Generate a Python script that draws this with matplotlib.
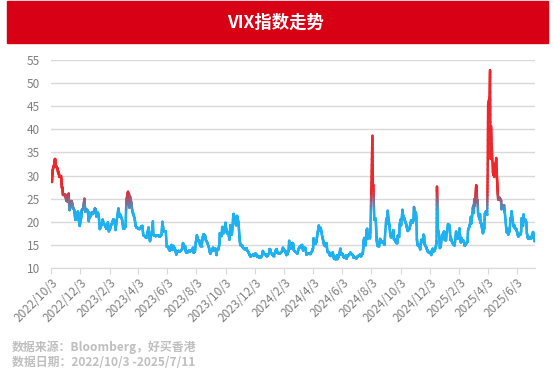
import numpy as np
import pandas as pd
import matplotlib
matplotlib.use("Agg")
import matplotlib.pyplot as plt
import matplotlib.dates as mdates
from matplotlib.collections import LineCollection
from matplotlib.patches import Rectangle

plt.rcParams['font.family'] = ['Noto Sans CJK SC', 'DejaVu Sans']

### VIX closes (a few points a week, daily around the spikes)
vix_2022 = [
    ("2022-10-03", 30.1), ("2022-10-04", 29.1), ("2022-10-05", 28.6), ("2022-10-06", 30.5),
    ("2022-10-07", 31.4), ("2022-10-10", 32.5), ("2022-10-11", 33.6), ("2022-10-12", 33.6),
    ("2022-10-13", 31.9), ("2022-10-14", 32.0), ("2022-10-17", 31.4), ("2022-10-18", 30.5),
    ("2022-10-19", 30.8), ("2022-10-20", 30.0), ("2022-10-21", 29.7), ("2022-10-24", 29.9),
    ("2022-10-25", 28.5), ("2022-10-26", 27.3), ("2022-10-27", 27.4), ("2022-10-28", 25.8),
    ("2022-10-31", 25.9), ("2022-11-02", 25.9), ("2022-11-03", 25.3), ("2022-11-04", 24.6),
    ("2022-11-07", 24.4), ("2022-11-08", 25.5), ("2022-11-09", 26.1), ("2022-11-10", 23.5),
    ("2022-11-11", 22.5), ("2022-11-14", 23.7), ("2022-11-15", 24.5), ("2022-11-16", 24.1),
    ("2022-11-18", 23.1), ("2022-11-21", 22.4), ("2022-11-22", 21.3), ("2022-11-23", 20.4),
    ("2022-11-25", 20.5), ("2022-11-28", 22.2), ("2022-11-29", 21.9), ("2022-11-30", 20.6),
    ("2022-12-01", 19.8), ("2022-12-02", 19.1), ("2022-12-05", 20.8), ("2022-12-06", 22.1),
    ("2022-12-07", 22.7), ("2022-12-09", 22.8), ("2022-12-12", 25.0), ("2022-12-13", 22.6),
    ("2022-12-14", 22.2), ("2022-12-15", 22.8), ("2022-12-16", 22.6), ("2022-12-19", 22.4),
    ("2022-12-20", 21.2), ("2022-12-21", 20.1), ("2022-12-22", 22.0), ("2022-12-23", 20.9),
    ("2022-12-27", 21.7), ("2022-12-28", 22.1), ("2022-12-30", 21.7),
]

vix_2023 = [
    ("2023-01-03", 22.9), ("2023-01-05", 22.5), ("2023-01-06", 21.1), ("2023-01-09", 22.0),
    ("2023-01-11", 21.1), ("2023-01-13", 18.4), ("2023-01-17", 19.4), ("2023-01-19", 20.5),
    ("2023-01-20", 19.9), ("2023-01-24", 19.2), ("2023-01-26", 18.7), ("2023-01-27", 18.5),
    ("2023-01-30", 19.9), ("2023-02-01", 17.9), ("2023-02-02", 18.7), ("2023-02-03", 18.3),
    ("2023-02-06", 19.4), ("2023-02-08", 19.6), ("2023-02-10", 20.5), ("2023-02-13", 20.3),
    ("2023-02-15", 18.2), ("2023-02-17", 20.0), ("2023-02-21", 22.9), ("2023-02-23", 21.1),
    ("2023-02-24", 21.7), ("2023-02-28", 20.7), ("2023-03-02", 19.6), ("2023-03-03", 18.5),
    ("2023-03-06", 18.6), ("2023-03-08", 19.1), ("2023-03-09", 22.6), ("2023-03-10", 24.8),
    ("2023-03-13", 26.5), ("2023-03-14", 23.7), ("2023-03-15", 26.1), ("2023-03-16", 23.0),
    ("2023-03-17", 25.5), ("2023-03-20", 24.1), ("2023-03-22", 22.3), ("2023-03-24", 21.7),
    ("2023-03-27", 20.6), ("2023-03-29", 19.1), ("2023-03-31", 18.7), ("2023-04-04", 18.6),
    ("2023-04-06", 18.4), ("2023-04-10", 19.0), ("2023-04-12", 19.1), ("2023-04-14", 17.1),
    ("2023-04-18", 16.8), ("2023-04-20", 16.5), ("2023-04-21", 16.8), ("2023-04-25", 18.8),
    ("2023-04-27", 16.7), ("2023-04-28", 15.8), ("2023-05-02", 17.8), ("2023-05-03", 18.3),
    ("2023-05-04", 20.1), ("2023-05-05", 17.2), ("2023-05-08", 17.0), ("2023-05-10", 16.9),
    ("2023-05-12", 17.0), ("2023-05-15", 17.1), ("2023-05-17", 16.9), ("2023-05-19", 16.8),
    ("2023-05-22", 17.2), ("2023-05-24", 20.0), ("2023-05-25", 19.1), ("2023-05-26", 18.0),
    ("2023-05-31", 17.9), ("2023-06-02", 14.6), ("2023-06-05", 14.7), ("2023-06-07", 13.9),
    ("2023-06-09", 13.8), ("2023-06-12", 15.0), ("2023-06-14", 13.9), ("2023-06-16", 14.8),
    ("2023-06-20", 13.9), ("2023-06-22", 12.9), ("2023-06-23", 13.4), ("2023-06-27", 13.7),
    ("2023-06-29", 13.5), ("2023-06-30", 13.6), ("2023-07-05", 14.2), ("2023-07-06", 15.4),
    ("2023-07-07", 14.8), ("2023-07-10", 14.8), ("2023-07-12", 13.5), ("2023-07-14", 13.3),
    ("2023-07-17", 13.5), ("2023-07-19", 13.8), ("2023-07-21", 13.6), ("2023-07-25", 13.9),
    ("2023-07-27", 14.4), ("2023-07-28", 13.3), ("2023-07-31", 13.6), ("2023-08-02", 15.9),
    ("2023-08-03", 15.9), ("2023-08-04", 17.1), ("2023-08-07", 15.8), ("2023-08-09", 16.0),
    ("2023-08-11", 14.8), ("2023-08-14", 14.8), ("2023-08-16", 16.5), ("2023-08-18", 17.3),
    ("2023-08-21", 17.0), ("2023-08-23", 16.0), ("2023-08-25", 15.7), ("2023-08-29", 14.5),
    ("2023-08-31", 13.6), ("2023-09-01", 13.1), ("2023-09-05", 14.0), ("2023-09-07", 14.4),
    ("2023-09-08", 13.8), ("2023-09-12", 14.2), ("2023-09-14", 12.8), ("2023-09-15", 13.8),
    ("2023-09-18", 14.0), ("2023-09-20", 15.1), ("2023-09-21", 17.5), ("2023-09-22", 17.2),
    ("2023-09-25", 16.9), ("2023-09-26", 18.9), ("2023-09-27", 18.2), ("2023-09-29", 17.5),
    ("2023-10-03", 19.8), ("2023-10-04", 18.6), ("2023-10-06", 17.5), ("2023-10-09", 17.7),
    ("2023-10-11", 16.1), ("2023-10-13", 19.3), ("2023-10-16", 17.2), ("2023-10-18", 19.2),
    ("2023-10-19", 21.4), ("2023-10-20", 21.7), ("2023-10-23", 20.4), ("2023-10-25", 19.2),
    ("2023-10-26", 20.2), ("2023-10-27", 21.3), ("2023-10-30", 19.8), ("2023-11-01", 16.9),
    ("2023-11-02", 15.7), ("2023-11-03", 14.9), ("2023-11-06", 14.9), ("2023-11-08", 14.5),
    ("2023-11-10", 14.2), ("2023-11-14", 14.2), ("2023-11-16", 14.3), ("2023-11-17", 13.8),
    ("2023-11-20", 13.4), ("2023-11-22", 12.9), ("2023-11-24", 12.5), ("2023-11-28", 12.7),
    ("2023-11-30", 12.9), ("2023-12-01", 12.6), ("2023-12-04", 13.1), ("2023-12-06", 13.0),
    ("2023-12-08", 12.4), ("2023-12-11", 12.6), ("2023-12-13", 12.2), ("2023-12-15", 12.3),
    ("2023-12-18", 12.6), ("2023-12-20", 13.7), ("2023-12-22", 13.0), ("2023-12-26", 13.0),
    ("2023-12-28", 12.5), ("2023-12-29", 12.5),
]

vix_2024 = [
    ("2024-01-02", 13.2), ("2024-01-03", 14.0), ("2024-01-04", 14.1), ("2024-01-05", 13.4),
    ("2024-01-08", 13.1), ("2024-01-10", 12.7), ("2024-01-12", 12.7), ("2024-01-16", 13.8),
    ("2024-01-18", 14.1), ("2024-01-19", 13.3), ("2024-01-22", 13.2), ("2024-01-24", 13.1),
    ("2024-01-26", 13.3), ("2024-01-29", 13.6), ("2024-01-31", 14.4), ("2024-02-01", 13.9),
    ("2024-02-02", 13.9), ("2024-02-05", 13.7), ("2024-02-07", 12.8), ("2024-02-09", 12.9),
    ("2024-02-12", 13.9), ("2024-02-13", 15.9), ("2024-02-14", 14.4), ("2024-02-16", 14.2),
    ("2024-02-20", 15.4), ("2024-02-21", 15.3), ("2024-02-22", 14.5), ("2024-02-23", 13.8),
    ("2024-02-27", 13.4), ("2024-02-29", 13.4), ("2024-03-01", 13.1), ("2024-03-05", 14.5),
    ("2024-03-07", 14.4), ("2024-03-08", 14.7), ("2024-03-11", 15.0), ("2024-03-13", 13.8),
    ("2024-03-15", 14.4), ("2024-03-18", 14.3), ("2024-03-20", 12.9), ("2024-03-22", 13.1),
    ("2024-03-26", 13.2), ("2024-03-28", 13.0), ("2024-04-01", 13.7), ("2024-04-03", 14.3),
    ("2024-04-04", 16.4), ("2024-04-05", 16.0), ("2024-04-08", 15.2), ("2024-04-10", 15.8),
    ("2024-04-12", 17.3), ("2024-04-15", 19.2), ("2024-04-16", 18.4), ("2024-04-18", 18.0),
    ("2024-04-19", 18.7), ("2024-04-22", 16.9), ("2024-04-24", 16.0), ("2024-04-26", 15.0),
    ("2024-04-29", 14.7), ("2024-05-01", 15.4), ("2024-05-03", 13.5), ("2024-05-06", 13.5),
    ("2024-05-08", 12.7), ("2024-05-10", 12.6), ("2024-05-14", 13.4), ("2024-05-16", 12.4),
    ("2024-05-17", 12.0), ("2024-05-21", 11.9), ("2024-05-23", 12.8), ("2024-05-24", 11.9),
    ("2024-05-28", 12.9), ("2024-05-30", 14.2), ("2024-05-31", 12.9), ("2024-06-03", 13.1),
    ("2024-06-05", 12.6), ("2024-06-07", 12.2), ("2024-06-10", 12.7), ("2024-06-12", 12.0),
    ("2024-06-14", 12.7), ("2024-06-17", 12.8), ("2024-06-20", 13.3), ("2024-06-21", 13.2),
    ("2024-06-25", 12.8), ("2024-06-27", 12.2), ("2024-06-28", 12.4), ("2024-07-01", 12.2),
    ("2024-07-03", 12.1), ("2024-07-05", 12.5), ("2024-07-09", 12.8), ("2024-07-11", 12.9),
    ("2024-07-12", 12.5), ("2024-07-15", 13.1), ("2024-07-16", 13.2), ("2024-07-17", 14.5),
    ("2024-07-18", 15.9), ("2024-07-19", 16.5), ("2024-07-22", 14.9), ("2024-07-24", 18.0),
    ("2024-07-25", 18.5), ("2024-07-26", 16.4), ("2024-07-29", 16.6), ("2024-07-30", 17.7),
    ("2024-07-31", 16.4), ("2024-08-01", 18.6), ("2024-08-02", 23.4), ("2024-08-05", 38.6),
    ("2024-08-06", 27.7), ("2024-08-07", 27.9), ("2024-08-08", 23.8), ("2024-08-09", 20.4),
    ("2024-08-12", 20.7), ("2024-08-13", 18.1), ("2024-08-14", 16.2), ("2024-08-15", 15.2),
    ("2024-08-16", 14.8), ("2024-08-19", 14.7), ("2024-08-21", 16.3), ("2024-08-23", 15.9),
    ("2024-08-27", 15.4), ("2024-08-29", 15.7), ("2024-08-30", 15.0), ("2024-09-03", 20.7),
    ("2024-09-04", 19.6), ("2024-09-05", 19.9), ("2024-09-06", 22.4), ("2024-09-09", 19.5),
    ("2024-09-10", 19.1), ("2024-09-11", 17.7), ("2024-09-13", 16.6), ("2024-09-16", 17.1),
    ("2024-09-18", 18.2), ("2024-09-19", 16.3), ("2024-09-20", 16.2), ("2024-09-24", 15.4),
    ("2024-09-26", 15.4), ("2024-09-27", 17.0), ("2024-09-30", 16.7), ("2024-10-01", 19.3),
    ("2024-10-03", 20.5), ("2024-10-04", 19.2), ("2024-10-07", 22.6), ("2024-10-08", 21.4),
    ("2024-10-10", 20.9), ("2024-10-11", 20.5), ("2024-10-14", 19.7), ("2024-10-16", 18.8),
    ("2024-10-18", 18.0), ("2024-10-21", 18.4), ("2024-10-23", 19.2), ("2024-10-25", 20.3),
    ("2024-10-28", 19.8), ("2024-10-30", 20.4), ("2024-10-31", 23.2), ("2024-11-01", 21.9),
    ("2024-11-04", 22.0), ("2024-11-05", 20.5), ("2024-11-06", 16.3), ("2024-11-07", 15.2),
    ("2024-11-08", 14.9), ("2024-11-11", 15.0), ("2024-11-13", 14.0), ("2024-11-15", 16.1),
    ("2024-11-18", 15.6), ("2024-11-20", 17.2), ("2024-11-21", 16.9), ("2024-11-22", 15.2),
    ("2024-11-25", 14.6), ("2024-11-27", 14.1), ("2024-11-29", 13.5), ("2024-12-02", 13.3),
    ("2024-12-04", 13.5), ("2024-12-06", 12.8), ("2024-12-09", 14.2), ("2024-12-11", 13.6),
    ("2024-12-13", 13.8), ("2024-12-16", 14.7), ("2024-12-17", 15.9), ("2024-12-18", 27.6),
    ("2024-12-19", 24.1), ("2024-12-20", 18.4), ("2024-12-23", 16.8), ("2024-12-24", 14.3),
    ("2024-12-26", 14.7), ("2024-12-27", 16.0), ("2024-12-30", 17.4), ("2024-12-31", 17.4),
]

vix_2025 = [
    ("2025-01-02", 17.9), ("2025-01-03", 16.1), ("2025-01-06", 16.0), ("2025-01-07", 17.8),
    ("2025-01-08", 17.7), ("2025-01-10", 19.5), ("2025-01-13", 19.2), ("2025-01-14", 18.7),
    ("2025-01-15", 16.1), ("2025-01-16", 16.6), ("2025-01-17", 16.0), ("2025-01-21", 15.1),
    ("2025-01-23", 15.0), ("2025-01-24", 14.9), ("2025-01-27", 17.9), ("2025-01-28", 16.4),
    ("2025-01-29", 16.6), ("2025-01-31", 16.4), ("2025-02-03", 18.6), ("2025-02-04", 17.2),
    ("2025-02-06", 15.5), ("2025-02-07", 16.5), ("2025-02-10", 15.8), ("2025-02-12", 15.9),
    ("2025-02-14", 14.8), ("2025-02-18", 15.4), ("2025-02-20", 15.7), ("2025-02-21", 18.2),
    ("2025-02-24", 19.0), ("2025-02-25", 19.4), ("2025-02-27", 21.1), ("2025-02-28", 19.6),
    ("2025-03-03", 22.8), ("2025-03-04", 23.5), ("2025-03-05", 21.9), ("2025-03-06", 24.9),
    ("2025-03-07", 23.4), ("2025-03-10", 27.9), ("2025-03-11", 26.9), ("2025-03-12", 24.2),
    ("2025-03-13", 24.7), ("2025-03-14", 21.8), ("2025-03-17", 20.5), ("2025-03-18", 21.7),
    ("2025-03-19", 19.9), ("2025-03-20", 19.8), ("2025-03-21", 19.3), ("2025-03-24", 17.5),
    ("2025-03-26", 18.3), ("2025-03-27", 18.7), ("2025-03-28", 21.7), ("2025-03-31", 22.3),
    ("2025-04-01", 21.8), ("2025-04-02", 21.5), ("2025-04-03", 30.0), ("2025-04-04", 45.3),
    ("2025-04-07", 47.0), ("2025-04-08", 52.8), ("2025-04-09", 33.6), ("2025-04-10", 40.7),
    ("2025-04-11", 37.6), ("2025-04-14", 30.9), ("2025-04-15", 30.1), ("2025-04-16", 32.6),
    ("2025-04-17", 29.7), ("2025-04-21", 33.8), ("2025-04-22", 30.6), ("2025-04-23", 28.5),
    ("2025-04-24", 26.5), ("2025-04-25", 24.8), ("2025-04-28", 25.2), ("2025-04-30", 24.7),
    ("2025-05-01", 24.6), ("2025-05-02", 22.7), ("2025-05-05", 23.6), ("2025-05-07", 23.6),
    ("2025-05-08", 22.5), ("2025-05-09", 21.9), ("2025-05-12", 18.4), ("2025-05-13", 17.7),
    ("2025-05-14", 18.6), ("2025-05-16", 17.2), ("2025-05-19", 18.1), ("2025-05-21", 20.9),
    ("2025-05-22", 20.3), ("2025-05-23", 22.3), ("2025-05-27", 19.0), ("2025-05-29", 19.2),
    ("2025-05-30", 18.6), ("2025-06-02", 18.4), ("2025-06-04", 17.6), ("2025-06-06", 16.8),
    ("2025-06-09", 17.2), ("2025-06-11", 17.3), ("2025-06-12", 18.0), ("2025-06-13", 20.8),
    ("2025-06-16", 19.1), ("2025-06-17", 21.6), ("2025-06-18", 20.1), ("2025-06-20", 20.6),
    ("2025-06-23", 19.8), ("2025-06-24", 17.5), ("2025-06-26", 16.6), ("2025-06-27", 16.3),
    ("2025-06-30", 16.7), ("2025-07-02", 16.6), ("2025-07-03", 16.4), ("2025-07-07", 17.8),
    ("2025-07-08", 16.8), ("2025-07-10", 15.8), ("2025-07-11", 16.4),
]

tick_labels = ["2022/10/3", "2022/12/3", "2023/2/3", "2023/4/3", "2023/6/3", "2023/8/3",
               "2023/10/3", "2023/12/3", "2024/2/3", "2024/4/3", "2024/6/3", "2024/8/3",
               "2024/10/3", "2024/12/3", "2025/2/3", "2025/4/3", "2025/6/3"]

title = "VIX指数走势"
source_note = "数据来源：Bloomberg，好买香港"
date_note = "数据日期：2022/10/3 -2025/7/11"

### build the series
obs = vix_2022 + vix_2023 + vix_2024 + vix_2025
x = mdates.date2num(pd.to_datetime([d for d, v in obs]))
y = np.array([v for d, v in obs])

blue = np.array([0.12, 0.69, 0.94])
red = np.array([0.93, 0.15, 0.17])
lo, hi = 22.0, 26.5   # colour blends from blue to red between these levels

segs = []
cols = []
n_sub = 12
for i in range(len(x) - 1):
    t = np.linspace(0, 1, n_sub + 1)
    xs = x[i] + (x[i + 1] - x[i]) * t
    ys = y[i] + (y[i + 1] - y[i]) * t
    for j in range(n_sub):
        segs.append([(xs[j], ys[j]), (xs[j + 1], ys[j + 1])])
        f = np.clip(((ys[j] + ys[j + 1]) / 2 - lo) / (hi - lo), 0, 1)
        cols.append(blue * (1 - f) + red * f)

### figure
fig = plt.figure(figsize=(5.54, 3.73), dpi=100)

fig.patches.append(Rectangle((7 / 554, 1 - 43 / 373), 541 / 554, 42 / 373,
                             transform=fig.transFigure, color='#D70015', zorder=0))
fig.text(276 / 554, 1 - 23 / 373, title, ha='center', va='center',
         color='white', fontsize=12.5, fontweight='bold')

ax = fig.add_axes([51 / 554, 1 - 268 / 373, 484 / 554, 208 / 373])
lc = LineCollection(segs, colors=cols, linewidths=1.8, capstyle='round', joinstyle='round')
ax.add_collection(lc)

ax.xaxis_date()
ax.set_xlim(mdates.date2num(pd.Timestamp("2022-10-03")), mdates.date2num(pd.Timestamp("2025-07-11")))
ax.set_ylim(10, 55)
ax.set_yticks(range(10, 56, 5))

tick_pos = mdates.date2num(pd.to_datetime(tick_labels, format="%Y/%m/%d"))
ax.set_xticks(tick_pos)
ax.set_xticklabels(tick_labels, rotation=45, ha='right', va='top', rotation_mode='anchor')

ax.grid(axis='y', color='#D9D9D9', lw=1)
ax.set_axisbelow(True)
for s in ['top', 'right', 'left']:
    ax.spines[s].set_visible(False)
ax.spines['bottom'].set_color('#D9D9D9')
ax.tick_params(axis='y', length=0, labelsize=8.5, colors='#7F7F7F', pad=8)
ax.tick_params(axis='x', length=4, color='#D9D9D9', labelsize=8.5, labelcolor='#7F7F7F', pad=2)

fig.text(12 / 554, 1 - 347 / 373, source_note, ha='left', va='center',
         color='#BFBFBF', fontsize=8.6, fontweight='bold')
fig.text(12 / 554, 1 - 363 / 373, date_note, ha='left', va='center',
         color='#BFBFBF', fontsize=8.6, fontweight='bold')

fig.savefig('out.png', dpi=100)
